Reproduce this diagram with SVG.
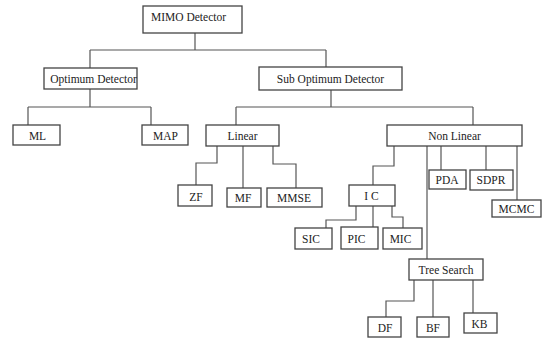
<svg xmlns="http://www.w3.org/2000/svg" width="542" height="338" viewBox="0 0 542 338">
<style>
rect{fill:#fff;stroke:#444;stroke-width:1.3}
text{font-family:'Liberation Serif','Times New Roman',serif;font-size:11.5px;fill:#222;text-anchor:middle}
#connectors path{fill:none;stroke:#555;stroke-width:1.2}
</style>
<rect x="0" y="0" width="542" height="338" style="stroke:none"/>
<g id="connectors">
<path d="M195,33V50M90,50H326M90,50V68M326,50V67"/>
<path d="M90,89V107M28,107H151M28,107V125M151,107V125"/>
<path d="M331,90V107M236,107H473M236,107V125M473,107V125"/>
<path d="M217,146V163H196V185"/>
<path d="M243,146V188"/>
<path d="M273,146V164H296V188"/>
<path d="M394,146V166H373V185"/>
<path d="M427,146V259"/>
<path d="M441,146V170"/>
<path d="M486,146V170"/>
<path d="M517,146V200"/>
<path d="M356,206V220H326V228"/>
<path d="M373,206V228"/>
<path d="M392,206V217H403V228"/>
<path d="M414,280V301H386V317"/>
<path d="M433,280V317"/>
<path d="M473,280V313"/>
</g>
<g id="mimo"><rect x="143" y="6" width="99" height="27"/><text x="188.5" y="21">MIMO Detector</text></g>
<g id="optimum"><rect x="44" y="68" width="93" height="21"/><text x="93.5" y="83">Optimum Detector</text></g>
<g id="suboptimum"><rect x="259" y="67" width="143" height="23"/><text x="330.5" y="83">Sub Optimum Detector</text></g>
<g id="ml"><rect x="13" y="125" width="47" height="20"/><text x="37.5" y="139.5">ML</text></g>
<g id="map"><rect x="142" y="125" width="46" height="20"/><text x="165.5" y="139.5">MAP</text></g>
<g id="linear"><rect x="206" y="125" width="73" height="21"/><text x="242.5" y="139.5">Linear</text></g>
<g id="nonlinear"><rect x="387" y="125" width="135" height="21"/><text x="454.5" y="139.5">Non Linear</text></g>
<g id="zf"><rect x="178" y="185" width="34" height="21"/><text x="196" y="200.5">ZF</text></g>
<g id="mf"><rect x="227" y="188" width="34" height="19"/><text x="243" y="202">MF</text></g>
<g id="mmse"><rect x="267" y="188" width="55" height="19"/><text x="294" y="202">MMSE</text></g>
<g id="ic"><rect x="349" y="185" width="46" height="21"/><text x="371.5" y="199.5">I C</text></g>
<g id="pda"><rect x="429" y="170" width="37" height="19"/><text x="447" y="184">PDA</text></g>
<g id="sdpr"><rect x="470" y="170" width="43" height="20"/><text x="491" y="184">SDPR</text></g>
<g id="mcmc"><rect x="492" y="200" width="49" height="17"/><text x="516.5" y="212.5">MCMC</text></g>
<g id="sic"><rect x="295" y="228" width="37" height="21"/><text x="311" y="243">SIC</text></g>
<g id="pic"><rect x="341" y="227" width="37" height="22"/><text x="356.5" y="242.5">PIC</text></g>
<g id="mic"><rect x="383" y="228" width="39" height="21"/><text x="400.5" y="242.5">MIC</text></g>
<g id="treesearch"><rect x="409" y="259" width="74" height="21"/><text x="446" y="273.5">Tree Search</text></g>
<g id="df"><rect x="368" y="317" width="33" height="20"/><text x="385" y="331.5">DF</text></g>
<g id="bf"><rect x="417" y="317" width="32" height="20"/><text x="433" y="331.5">BF</text></g>
<g id="kb"><rect x="464" y="313" width="33" height="20"/><text x="479.5" y="327.5">KB</text></g>
</svg>
